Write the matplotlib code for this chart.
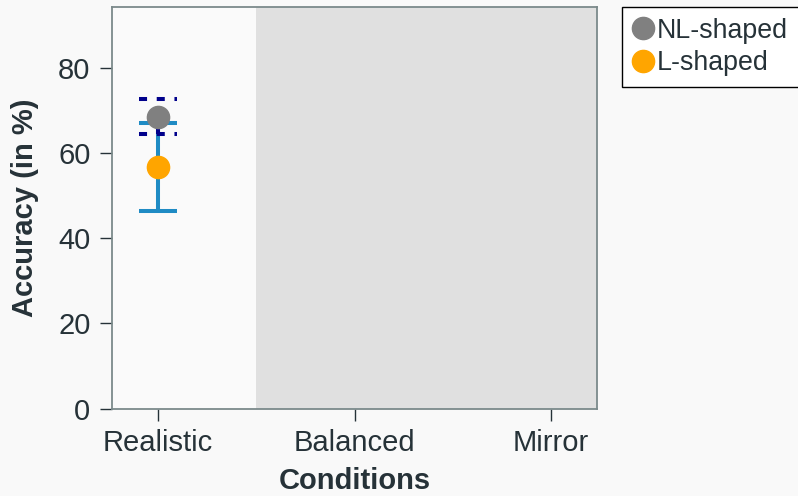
import matplotlib
matplotlib.use("Agg")
import matplotlib.pyplot as plt
from matplotlib.lines import Line2D

# accuracy per condition (only Realistic was measured)
conditions = ["Realistic", "Balanced", "Mirror"]
nl_mean = [68.5]
nl_err = [4.1]
l_mean = [56.6]
l_err = [10.3]

TEXT = "#263238"
SPINE = "#7b8a8b"

plt.rcParams["font.family"] = ["Liberation Sans", "DejaVu Sans"]

fig = plt.figure(figsize=(7.98, 4.96), dpi=100, facecolor="#f9f9f9")
ax = fig.add_axes([112 / 798, 87.5 / 496, 485 / 798, 401.5 / 496])
ax.set_facecolor("#fafafa")

xs = list(range(len(conditions)))
ax.set_xlim(-0.234, 2.234)
ax.set_ylim(0, 94.2)

# shaded area behind the conditions without data
ax.axvspan(0.5, 2.234, color="#e0e0e0", zorder=0, lw=0)

x_meas = xs[:len(l_mean)]
cap = 0.099
lw = 2.9

# L-shaped: solid blue error bars
ax.errorbar(x_meas, l_mean, yerr=l_err, fmt="none", ecolor="#1f8bc4",
            elinewidth=lw, capsize=14, capthick=lw, zorder=2)
ax.plot(x_meas, l_mean, "o", color="#ffa500", markersize=16, zorder=3)

# NL-shaped: dashed navy error bars
dash = (0, (2.0, 2.4))
eb = ax.errorbar(x_meas, nl_mean, yerr=nl_err, fmt="none", ecolor="#00008b",
                 elinewidth=lw, capsize=0, zorder=4)
eb[2][0].set_linestyle(dash)
for x, m, e in zip(x_meas, nl_mean, nl_err):
    ax.hlines([m - e, m + e], x - cap, x + cap, colors="#00008b",
              linewidth=lw, linestyles=dash, zorder=4)
ax.plot(x_meas, nl_mean, "o", color="#808080", markersize=16, zorder=5)

ax.set_xticks(xs)
ax.set_xticklabels(conditions)
ax.set_yticks([0, 20, 40, 60, 80])
ax.tick_params(axis="both", direction="out", length=8.5, width=1,
               colors=TEXT, labelsize=21, labelcolor=TEXT)
ax.tick_params(axis="y", pad=7)
ax.tick_params(axis="x", pad=6.5)

for s in ax.spines.values():
    s.set_color(SPINE)
    s.set_linewidth(1.3)

ax.set_xlabel("Conditions", fontsize=21, fontweight="bold", color=TEXT, labelpad=7)
ax.set_ylabel("Accuracy (in %)", fontsize=21, fontweight="bold", color=TEXT, labelpad=14)

handles = [
    Line2D([], [], marker="o", ls="", color="#808080", markersize=16, label="NL-shaped"),
    Line2D([], [], marker="o", ls="", color="#ffa500", markersize=16, label="L-shaped"),
]
leg = fig.legend(handles=handles, loc="upper left", bbox_to_anchor=(622 / 798, 1 - 7 / 496),
                 fontsize=19.3, frameon=True, fancybox=False, framealpha=1,
                 edgecolor="black", facecolor="white", handlelength=0.8,
                 handletextpad=0.1, borderpad=0.4, labelspacing=0.25,
                 borderaxespad=0)
leg.get_frame().set_linewidth(1.0)
for t in leg.get_texts():
    t.set_color(TEXT)

fig.savefig("out.png", dpi=100, facecolor=fig.get_facecolor())
